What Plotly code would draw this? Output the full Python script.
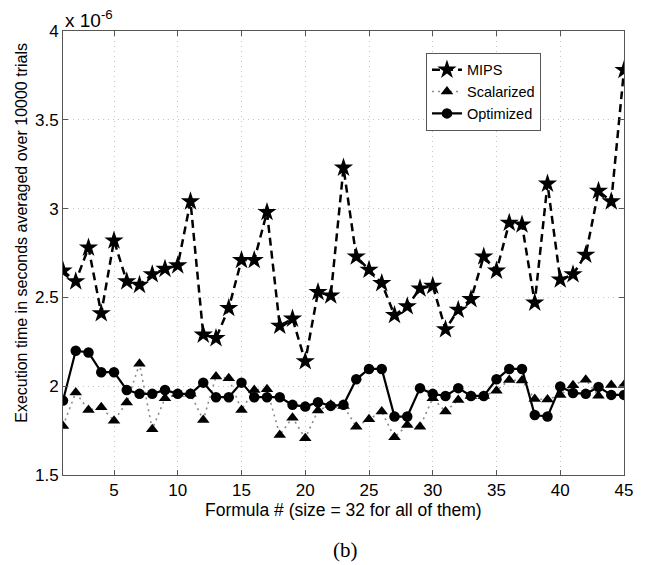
import plotly.graph_objects as go

# Formula index 1..45
formula = list(range(1, 46))

# Execution times, in units of 1e-6 seconds
mips = [2.65, 2.59, 2.78, 2.41, 2.82, 2.59, 2.57, 2.63, 2.66, 2.68,
        3.04, 2.29, 2.27, 2.44, 2.71, 2.71, 2.98, 2.34, 2.38, 2.14,
        2.53, 2.51, 3.23, 2.73, 2.655, 2.58, 2.40, 2.45, 2.55, 2.565,
        2.32, 2.43, 2.49, 2.73, 2.65, 2.92, 2.91, 2.47, 3.14, 2.60,
        2.63, 2.74, 3.10, 3.04, 3.78]

scalarized = [1.776, 1.964, 1.866, 1.881, 1.806, 1.908, 2.126, 1.758, 1.932, 1.957,
              1.957, 1.81, 2.054, 2.045, 1.866, 1.979, 1.983, 1.725, 1.823, 1.707,
              1.863, 1.895, 1.889, 1.772, 1.814, 1.857, 1.712, 1.782, 1.772, 1.932,
              1.857, 1.923, 1.945, 1.945, 1.975, 2.035, 2.032, 1.928, 1.925, 1.951,
              2.005, 2.037, 1.946, 2.007, 2.007]

optimized = [1.919, 2.20, 2.19, 2.079, 2.079, 1.979, 1.957, 1.957, 1.979, 1.957,
             1.957, 2.02, 1.938, 1.938, 2.02, 1.938, 1.938, 1.938, 1.895, 1.885,
             1.91, 1.889, 1.895, 2.039, 2.097, 2.097, 1.829, 1.829, 1.989, 1.957,
             1.945, 1.989, 1.945, 1.945, 2.039, 2.097, 2.097, 1.838, 1.829, 1.998,
             1.962, 1.957, 1.996, 1.951, 1.951]

x_ticks = [5, 10, 15, 20, 25, 30, 35, 40, 45]
y_ticks = [1.5, 2, 2.5, 3, 3.5, 4]
y_tick_labels = ["1.5", "2", "2.5", "3", "3.5", "4"]

FONT = "Liberation Sans, Arial, sans-serif"

fig = go.Figure()

fig.add_trace(go.Scatter(
    x=formula, y=mips, name="MIPS", mode="lines+markers",
    line=dict(color="black", width=2.5, dash="8px,5px"),
    marker=dict(symbol="star", size=14.5, color="black", line=dict(width=0)),
))
fig.add_trace(go.Scatter(
    x=formula, y=scalarized, name="Scalarized", mode="lines+markers",
    line=dict(color="#8a8a8a", width=1.6, dash="2px,4px"),
    marker=dict(symbol="triangle-up", size=11, color="black", line=dict(width=0)),
))
fig.add_trace(go.Scatter(
    x=formula, y=optimized, name="Optimized", mode="lines+markers",
    line=dict(color="black", width=2.2),
    marker=dict(symbol="circle", size=10.5, color="black", line=dict(width=0)),
))

axis_common = dict(
    showline=True, linecolor="#555555", linewidth=1, mirror="ticks",
    ticks="inside", ticklen=5, tickcolor="#555555",
    showgrid=True, gridcolor="#c4c4c4", griddash="1px,4px", gridwidth=1,
    zeroline=False, tickfont=dict(family=FONT, size=17, color="black"),
)

fig.update_layout(
    width=645, height=565,
    margin=dict(l=63, r=18, t=31, b=90),
    paper_bgcolor="white", plot_bgcolor="white",
    font=dict(family=FONT, size=16, color="black"),
    xaxis=dict(range=[1, 45], tickvals=x_ticks, **axis_common),
    yaxis=dict(range=[1.5, 4], tickvals=y_ticks, ticktext=y_tick_labels, **axis_common),
    legend=dict(
        x=0.647, y=0.951, xanchor="left", yanchor="top",
        bgcolor="white", bordercolor="#555555", borderwidth=1,
        font=dict(family=FONT, size=14.5, color="black"),
        tracegroupgap=0, itemwidth=30,
    ),
    showlegend=True,
)

annotations = [
    dict(text="Execution time in seconds averaged over 10000 trials",
         xref="paper", yref="paper", x=-0.0745, y=0.546, textangle=-90,
         showarrow=False, xanchor="center", yanchor="middle",
         font=dict(family=FONT, size=16)),
    dict(text="Formula # (size = 32 for all of them)",
         xref="paper", yref="paper", x=0.5, y=-0.079,
         showarrow=False, xanchor="center", yanchor="middle",
         font=dict(family=FONT, size=17.5)),
    dict(text="(b)", xref="paper", yref="paper", x=0.503, y=-0.169,
         showarrow=False, xanchor="center", yanchor="middle",
         font=dict(family="Liberation Serif, Times New Roman, serif", size=21)),
    dict(text="x 10<sup>-6</sup>", xref="paper", yref="paper", x=0.0, y=0.995,
         showarrow=False, xanchor="left", yanchor="bottom",
         font=dict(family=FONT, size=19)),
]
fig.update_layout(annotations=annotations)

fig.write_html("out.html")
